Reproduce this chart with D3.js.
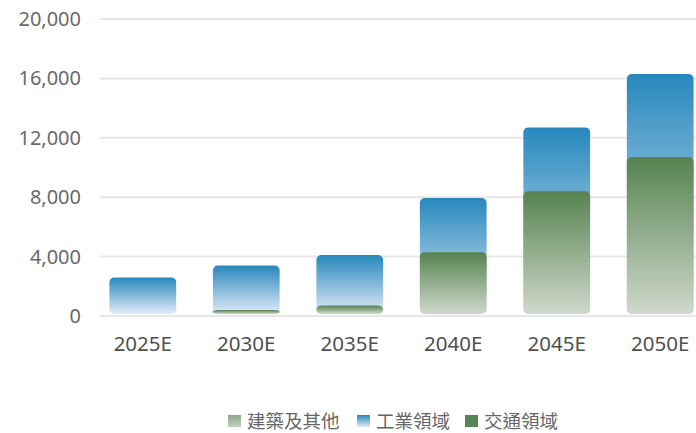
<!DOCTYPE html>
<html>
<head>
<meta charset="utf-8">
<script src="https://cdn.jsdelivr.net/npm/d3@7"></script>
<style>
  body { margin: 0; background: #fff; }
  .y-axis .tick text { font-family: "Noto Sans", "Open Sans", sans-serif; font-size: 20px; fill: #6a6a6a; }
  .x-axis .tick text { font-family: "Noto Sans", "Open Sans", sans-serif; font-size: 20.5px; fill: #505050; }
  .legend text { font-family: "Noto Sans CJK TC", "Noto Sans CJK SC", sans-serif; font-size: 18.5px; fill: #666; }
</style>
</head>
<body>
<script>
const years = ["2025E", "2030E", "2035E", "2040E", "2045E", "2050E"];
const industry = [2600, 3400, 4100, 7950, 12700, 16300];   // 工業領域 (bar total)
const transport = [0, 400, 700, 4300, 8400, 10700];       // 交通領域
const buildings = [0, 0, 0, 0, 0, 0];                     // 建築及其他
const yTicks = [0, 4000, 8000, 12000, 16000, 20000];
const legendNames = ["建築及其他", "工業領域", "交通領域"];

const width = 696, height = 433;
const margin = {left: 100, right: 0, top: 19, bottom: 117};

const svg = d3.select("body").append("svg")
  .attr("width", width)
  .attr("height", height);

const defs = svg.append("defs");
function grad(id, c1, c2) {
  const g = defs.append("linearGradient").attr("id", id)
    .attr("x1", 0).attr("y1", 0).attr("x2", 0).attr("y2", 1);
  g.append("stop").attr("offset", "0%").attr("stop-color", c1);
  g.append("stop").attr("offset", "100%").attr("stop-color", c2);
}
grad("gBlue", "#2788bd", "#e3ebf7");
grad("gGreen", "#568350", "#cfd9cb");
grad("gLight", "#8aa985", "#c2d0bd");

const xScale = d3.scaleBand()
  .domain(years)
  .range([91, 712])
  .paddingInner(0.355)
  .paddingOuter(0.178);

const yScale = d3.scaleLinear()
  .domain([0, 20000])
  .range([height - margin.bottom, margin.top]);

// grid
svg.append("g")
  .selectAll("line")
  .data(yTicks)
  .enter().append("line")
  .attr("x1", margin.left)
  .attr("x2", width)
  .attr("y1", (d) => yScale(d))
  .attr("y2", (d) => yScale(d))
  .attr("stroke", "#e6e6e6")
  .attr("stroke-width", 2);

const yAxis = d3.axisLeft(yScale)
  .tickValues(yTicks)
  .tickFormat(d3.format(","))
  .tickSize(0)
  .tickPadding(19);

svg.append("g")
  .attr("class", "y-axis")
  .attr("transform", "translate(" + margin.left + ",0)")
  .call(yAxis)
  .call((g) => g.select(".domain").remove());

const xAxis = d3.axisBottom(xScale).tickSize(0).tickPadding(20);

svg.append("g")
  .attr("class", "x-axis")
  .attr("transform", "translate(0," + yScale(0) + ")")
  .call(xAxis)
  .call((g) => g.select(".domain").remove());

function bars(values, fill) {
  svg.append("g")
    .selectAll("rect")
    .data(years.map((y, i) => ({year: y, v: values[i]})).filter((d) => d.v > 0))
    .enter().append("rect")
    .attr("x", (d) => xScale(d.year))
    .attr("width", xScale.bandwidth())
    .attr("y", (d) => yScale(d.v))
    .attr("height", (d) => yScale(0) - 2 - yScale(d.v))
    .attr("rx", 5)
    .attr("ry", 5)
    .attr("fill", fill);
}

bars(industry, "url(#gBlue)");
bars(transport, "url(#gGreen)");
bars(buildings, "url(#gLight)");

// legend
const legendFills = ["url(#gLight)", "url(#gBlue)", "#5a8455"];
const legendX = [228, 357, 465];
const legend = svg.append("g").attr("class", "legend");
legendNames.forEach((name, i) => {
  legend.append("rect")
    .attr("x", legendX[i])
    .attr("y", 415)
    .attr("width", 13)
    .attr("height", 12)
    .attr("fill", legendFills[i]);
  legend.append("text")
    .attr("x", legendX[i] + 19)
    .attr("y", 428)
    .text(name);
});
</script>
</body>
</html>
